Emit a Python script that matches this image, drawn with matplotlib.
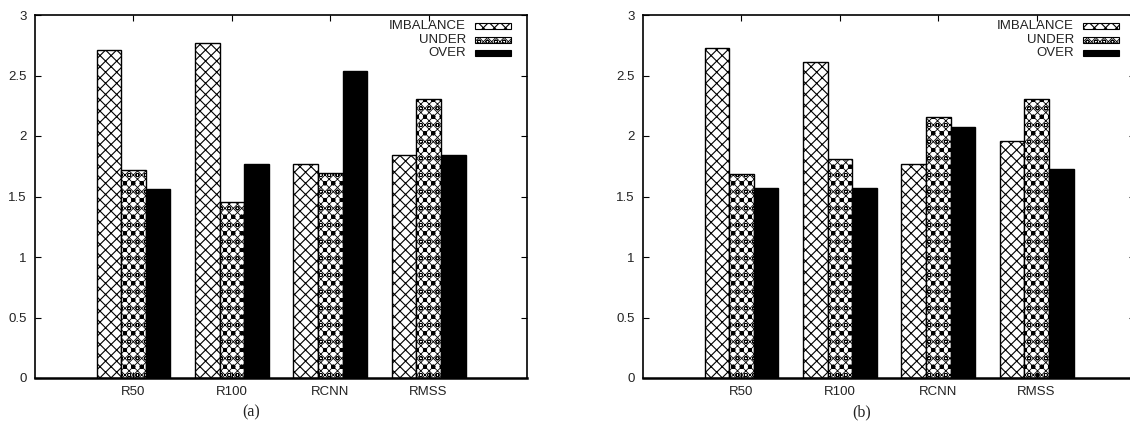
import numpy as np
import matplotlib
matplotlib.use("Agg")
import matplotlib.pyplot as plt
from matplotlib.patches import Rectangle

categories = ["R50", "R100", "RCNN", "RMSS"]
series = ["IMBALANCE", "UNDER", "OVER"]
imbalance_a = [2.71, 2.765, 1.767, 1.847]
under_a = [1.715, 1.458, 1.693, 2.305]
over_a = [1.566, 1.767, 2.537, 1.847]
imbalance_b = [2.727, 2.611, 1.767, 1.958]
under_b = [1.69, 1.806, 2.153, 2.305]
over_b = [1.574, 1.574, 2.076, 1.731]
yticks = [0, 0.5, 1, 1.5, 2, 2.5, 3]
ytick_labels = ["0", "0.5", "1", "1.5", "2", "2.5", "3"]
captions = ["(a)", "(b)"]

plt.rcParams["font.family"] = ["Liberation Sans", "DejaVu Sans"]
plt.rcParams["hatch.linewidth"] = 0.8

W, H = 1130, 421
fig = plt.figure(figsize=(W / 100, H / 100), dpi=100)

styles = [
    dict(facecolor="white", hatch="xxx", edgecolor="black"),
    dict(facecolor="white", hatch="xxxxoo", edgecolor="black"),
    dict(facecolor="black", hatch=None, edgecolor="black"),
]

def panel(left_px, data, caption, cap_x_frac):
    ax_w, ax_top, ax_bot = 492, 15, 378
    ax = fig.add_axes([left_px / W, 1 - ax_bot / H, ax_w / W, (ax_bot - ax_top) / H])
    x = np.arange(1, len(categories) + 1)
    width = 0.25
    for i, vals in enumerate(data):
        bars = ax.bar(x + (i - 1) * width, vals, width, linewidth=1.0, **styles[i])
        if i == 1:
            for b in bars:
                b.set_hatch_linewidth(0.6)
    ax.set_xlim(0, 5)
    ax.set_ylim(0, 3)
    ax.set_xticks(x)
    ax.set_xticklabels(categories, fontsize=9.5, color="#222222")
    ax.set_yticks(yticks)
    ax.set_yticklabels(ytick_labels, fontsize=9.5, color="#222222")
    ax.tick_params(direction="in", length=4, width=0.8, top=True, right=True,
                   pad=6)
    ax.tick_params(axis="x", pad=6)
    for s in ax.spines.values():
        s.set_linewidth(1.2)
    ax.spines["bottom"].set_linewidth(1.8)
    # legend
    ys = [0.970, 0.931, 0.895]
    for i, name in enumerate(series):
        ax.text(0.876, ys[i], name, transform=ax.transAxes, ha="right",
                va="center", fontsize=9.5, color="#222222")
        p = Rectangle((0.894, ys[i] - 0.009), 0.073, 0.018,
                      transform=ax.transAxes, linewidth=0.8,
                      clip_on=False, **styles[i])
        if i == 1:
            p.set_hatch_linewidth(0.6)
        ax.add_patch(p)
    fig.text((left_px + cap_x_frac * ax_w) / W, 1 - 412 / H, caption,
             family=["Liberation Serif", "DejaVu Serif"], fontsize=11.5,
             ha="center", va="center", color="#222222")
    return ax

panel(35, [imbalance_a, under_a, over_a], captions[0], 0.44)
panel(643, [imbalance_b, under_b, over_b], captions[1], 0.444)

fig.savefig("out.png", dpi=100)
